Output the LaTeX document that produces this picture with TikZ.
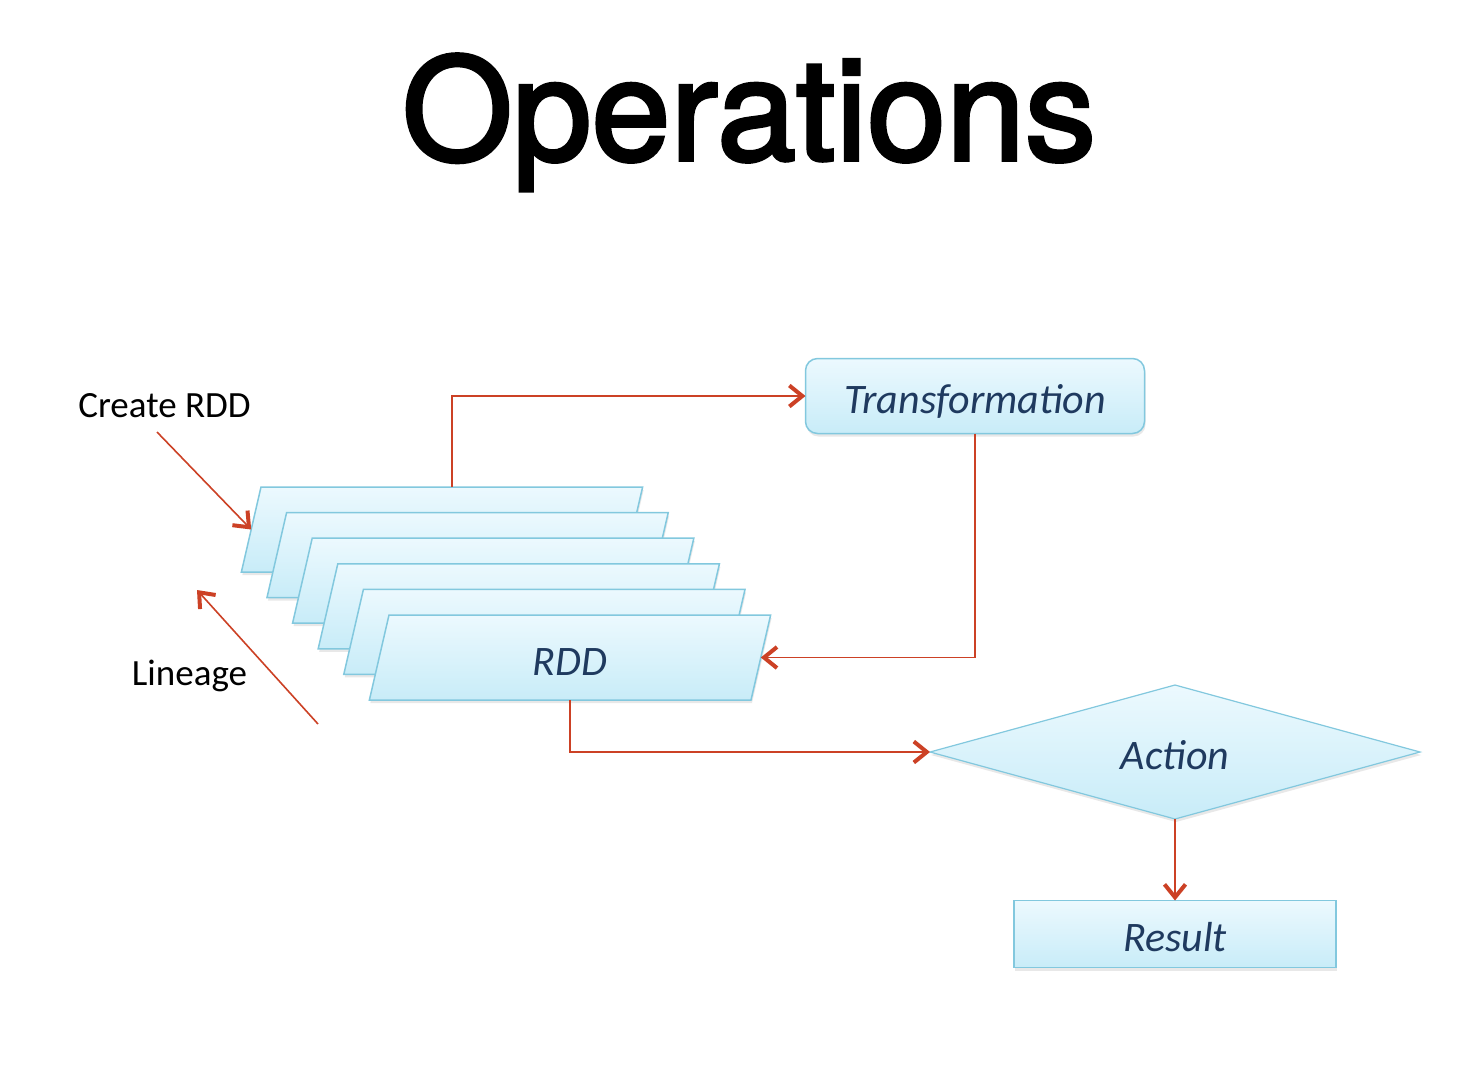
\documentclass[tikz,border=0pt]{standalone}
\usepackage{fontspec}
\setmainfont{Carlito}
\newfontfamily\headfont[RawFeature={embolden=2.5}]{TeX Gyre Heros}
\usetikzlibrary{shapes.geometric,arrows.meta,shadows}
\definecolor{arrowred}{RGB}{204,65,37}
\definecolor{boxline}{RGB}{130,200,222}
\definecolor{boxtop}{RGB}{236,249,254}
\definecolor{boxbottom}{RGB}{200,236,248}
\definecolor{boxtext}{RGB}{31,58,95}

\begin{document}
\begin{tikzpicture}[x=1pt, y=-1pt,
    box/.style={draw=boxline, line width=1.5pt, top color=boxtop, bottom color=boxbottom,
      text=boxtext, font=\fontsize{42}{50}\selectfont\itshape, inner sep=0pt, outer sep=0pt,
      text height=35pt, text depth=0pt,
      drop shadow={opacity=0.18, shadow xshift=1pt, shadow yshift=-3pt}},
    layer/.style={box, trapezium, trapezium left angle=77, trapezium right angle=103,
      inner xsep=0pt, inner ysep=25pt, text width=362pt, align=center},
    note/.style={font=\fontsize{37}{44}\selectfont, anchor=base},
    flow/.style={draw=arrowred, line width=1.6pt, -{Straight Barb[length=13pt,width=21pt,line width=4pt]}}]

        \path[use as bounding box, fill=white] (0, 0) rectangle (1458, 1072);

        \node[anchor=base, font=\headfont\fontsize{142}{150}\selectfont] (title) at (749, 160) {Operations};

        \node[box, rounded corners=12pt, minimum width=339pt, minimum height=75pt] (T) at (975, 396) {Transformation};

        \node[layer] (r1) at (442, 529.5) {};
        \node[layer] (r2) at (467.6, 555.1) {};
        \node[layer] (r3) at (493.2, 580.7) {};
        \node[layer] (r4) at (518.8, 606.3) {};
        \node[layer] (r5) at (544.4, 631.9) {};
        \node[layer] (r6) at (570, 657.5) {RDD};

        \node[box, diamond, aspect=3.66, line width=1.2pt, minimum width=490pt, minimum height=134pt] (A) at (1175, 752) {Action};
        \node[box, minimum width=322pt, minimum height=67pt] (R) at (1175, 934) {Result};

        \node[note] (create) at (164.5, 417) {Create RDD};
        \node[note] (lineage) at (189.5, 685) {Lineage};

        \coordinate (CT) at (157, 432);
        \coordinate (LT) at (318, 724);
        \coordinate (LH) at (197, 590);

        \draw[flow] (r1.top side) |- (T.west);
        \draw[flow] (T.south) |- (r6.east);
        \draw[flow] (r6.south) |- (A.west);
        \draw[flow] (A.south) -- (R.north);
        \draw[flow] (CT) -- (r1.west);
        \draw[flow] (LT) -- (LH);

      \end{tikzpicture}
\end{document}
